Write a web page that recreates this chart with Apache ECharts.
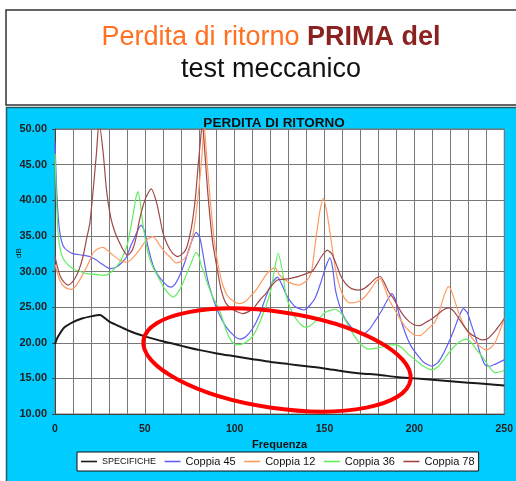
<!DOCTYPE html>
<html>
<head>
<meta charset="utf-8">
<script src="https://cdn.jsdelivr.net/npm/echarts@6.0.0/dist/echarts.min.js"></script>
<style>
  html, body { margin: 0; padding: 0; background: #fff; }
  #chart { width: 516px; height: 481px; }
</style>
</head>
<body>
<div id="chart"></div>
<script>
  // [frequenza, dB]
  const specifiche = [[0,19.8],[1,20.5],[2,21.0],[5,22.1],[10,22.9],[15,23.4],[20,23.7],[25,23.9],[30,23.0],[35,22.4],[40,21.8],[45,21.3],[50,20.9],[60,20.2],[70,19.6],[80,19.0],[90,18.5],[100,18.1],[110,17.7],[120,17.3],[130,17.0],[140,16.7],[150,16.4],[160,16.0],[170,15.7],[180,15.5],[190,15.2],[200,15.0],[210,14.8],[220,14.6],[230,14.4],[240,14.2],[250,14.0]]

  const coppia45 = [[0,48.1],[1,41],[2,37],[3,35],[4.5,33.6],[6.5,33.0],[10,32.5],[15,32.3],[19.4,32.1],[23,31.6],[27,30.9],[30.5,30.4],[34,30.6],[37,31.2],[39.7,32.0],[42,33.5],[44.3,34.8],[46.5,36.0],[48,36.5],[50,35.5],[52,33.2],[54.5,30.9],[57,29.6],[60,28.6],[62.5,28.0],[64.7,27.8],[67,28.3],[70,29.8],[72.5,31.5],[75,33.5],[78.5,35.5],[80.5,34.8],[82.2,32.7],[84,30.0],[86,27.8],[90,24.8],[95,22.3],[100,20.9],[103,20.5],[106,20.8],[110,22.0],[114,24.0],[117.3,26.4],[121,28.5],[123.8,29.2],[126,28.3],[128.4,26.9],[131,25.8],[134,25.0],[138.6,24.6],[142,25.3],[145,26.4],[148,28.5],[150.6,30.6],[153,31.9],[154.5,30.5],[156,27.5],[158,25.5],[160.5,23.8],[163.5,22.6],[167,21.6],[171.5,21.2],[175,21.9],[178,23.0],[182,24.6],[185,26.0],[187.5,26.9],[189.5,26.0],[191.5,24.0],[195,21.3],[198,19.6],[201,18.5],[205,17.3],[209.7,16.7],[213,17.2],[216,18.4],[219,20.0],[222,21.8],[225,23.8],[227.3,24.8],[229.5,24.2],[231.5,22.7],[234,20.8],[236.5,18.6],[239.3,16.9],[242,16.7],[245,17.0],[250,17.6]]

  const coppia12 = [[0,31],[1.5,29.6],[3,28.6],[5,27.9],[7,27.6],[9,27.5],[11,27.8],[13,28.5],[15.7,29.7],[18,30.8],[21.2,32.6],[24,33.2],[26.8,33.4],[29,33.0],[32.3,32.3],[36,31.6],[39.7,31.3],[42.5,31.7],[45.3,32.5],[48,33.4],[50.8,34.4],[54.5,34.9],[56.5,34.4],[58.2,33.7],[61,32.8],[63.7,32.1],[67.4,31.2],[70,31.4],[73,32.1],[75,33.3],[76.7,35.1],[78.2,37.5],[79.5,40.3],[80.8,43.5],[81.9,46.7],[83,50.5],[84.3,46.5],[86,41.1],[88.7,34.2],[91.5,30.0],[93.5,28.0],[96,26.6],[99,25.9],[102.5,25.5],[106,25.8],[109,26.6],[111.8,27.4],[114,28.2],[117,29.4],[120,30.2],[122.5,30.5],[124.7,29.6],[128,28.8],[132,28.3],[135.5,28.1],[139,28.5],[141.5,29.2],[143,30.3],[145,34.2],[147.3,38.3],[149.3,40.3],[151.3,38.3],[153.3,35.0],[156,30.4],[158.5,27.8],[161,26.3],[164,25.6],[169,25.8],[173,26.6],[176.5,27.8],[179,28.7],[181,29.0],[183,28.0],[186,26.0],[191,23.8],[195,22.2],[200,21.1],[203,21.0],[207,21.8],[211.6,23.0],[214,24.5],[216.5,26.6],[219,27.9],[221,27.0],[223.6,25.0],[226,23.3],[228,22.2],[232,20.7],[236,19.6],[240,19.0],[242.5,19.3],[244.8,20.0],[247.5,21.6],[250,23.4]]

  const coppia36 = [[0,46.5],[0.8,40],[1.8,35.1],[3,33.0],[4.6,31.8],[7,31.0],[10,30.4],[14,30.0],[17.6,29.7],[22,29.6],[25,29.5],[28.6,29.5],[32,30.1],[36,31.3],[38.5,32.6],[40.6,34.1],[43.4,37.9],[45,40.3],[46.2,41.2],[47.5,39.5],[49,36.5],[51,33.5],[52.7,31.8],[54.5,30.6],[56.4,29.7],[60,28.0],[62.5,27.1],[65.6,26.4],[68,26.9],[70.5,28.0],[73,29.5],[75.5,31.0],[78.5,32.7],[80,32.2],[81.3,30.9],[83.1,29.7],[85,28.2],[88,26.3],[91.5,24.6],[95.2,21.8],[98,20.3],[100.7,19.7],[104,19.8],[107,20.2],[110,20.9],[113,22.3],[116,24.2],[119.6,26.9],[122,30.0],[124.2,32.6],[126.6,30.0],[128.4,26.9],[131,24.8],[134,23.4],[137,22.5],[139.5,22.2],[142,22.4],[145,23.0],[148,23.7],[150.6,24.3],[156,24.7],[159,24.2],[162,23.0],[165,21.6],[169,20.1],[172,19.4],[174.6,19.1],[178,19.2],[182,19.4],[186,19.7],[190,19.7],[193,19.3],[197,18.3],[200.5,17.6],[205,16.7],[209.7,16.2],[213,16.6],[216,17.5],[219,18.5],[222,19.4],[225,20.1],[229,20.5],[232,19.9],[235,18.9],[239,17.6],[242,16.5],[244.8,15.8],[247.5,15.9],[250,16.1]]

  const coppia78 = [[0,32.1],[1.5,30.5],[3,29.3],[5,28.5],[7.4,28.1],[10,28.6],[13,30.0],[15.5,32.0],[17.6,34.6],[19.4,36.8],[21.2,41.3],[23.1,46.7],[24.5,51],[26.8,46.7],[28.6,41.6],[31,37.6],[33.5,35.4],[36,34.0],[38.5,32.8],[40.5,32.3],[43,33.0],[45,34.6],[47,37.2],[49,39.2],[50.8,40.5],[53.6,41.6],[56.4,39.8],[58.3,37.6],[60,35.5],[62.5,33.8],[65.6,32.5],[68.4,32.1],[71,32.5],[73,33.2],[75,35.0],[76.7,37.4],[78.2,40.5],[79.5,44.4],[81,48.5],[82,51],[83.3,47],[85,41.1],[87.7,34.2],[90.5,30.0],[92.5,27.4],[95,25.6],[98,24.8],[101,24.4],[104.4,24.1],[108,24.4],[111,25.0],[114,26.0],[117.3,26.9],[120.5,28.0],[123.8,28.8],[127,28.9],[130.3,29.0],[134,29.2],[137.6,29.5],[141,29.8],[143,30.0],[145.5,30.9],[148,32.0],[151.5,33.0],[154,32.5],[156.5,31.0],[159,29.4],[161.7,28.3],[165,27.6],[169,27.4],[172,27.6],[175,28.2],[178.3,29.0],[181,29.3],[183.5,28.3],[186,27.0],[188.5,26.2],[191,25.0],[194,23.8],[197,23.0],[200,22.5],[203,22.4],[206,22.8],[210,23.4],[213,24.0],[216,24.6],[219,24.9],[222,24.4],[225,23.3],[228,22.2],[231,21.3],[234,20.8],[237.5,20.4],[241,20.6],[244.8,21.6],[247.5,22.5],[250,23.4]]

  const seriesNames = ['SPECIFICHE', 'Coppia 45', 'Coppia 12', 'Coppia 36', 'Coppia 78']
  const seriesColors = ['#1a1a1a', '#6060f8', '#ff9a60', '#60ee60', '#a04848']
  const seriesData = [specifiche, coppia45, coppia12, coppia36, coppia78]

  const chart = echarts.init(document.getElementById('chart'), null, { renderer: 'canvas' })

  const series = seriesNames.map((name, i) => ({
    name: name,
    type: 'line',
    data: seriesData[i],
    symbol: 'none',
    smooth: 0.2,
    clip: true,
    z: i === 0 ? 3 : 2,
    lineStyle: { color: seriesColors[i], width: i === 0 ? 2 : 1.2 },
    itemStyle: { color: seriesColors[i] }
  }))

  chart.setOption({
    animation: false,
    backgroundColor: '#fff',
    textStyle: { fontFamily: 'Liberation Sans, Arial, sans-serif' },
    graphic: [
      // header box
      { type: 'rect', z: -20, shape: { x: 6, y: 10, width: 520, height: 95 },
        style: { fill: '#fff', stroke: '#333', lineWidth: 1.5 } },
      // blue panel
      { type: 'rect', z: -20, shape: { x: 6.5, y: 107.5, width: 520, height: 380 },
        style: { fill: '#00ccff', stroke: '#2a5a66', lineWidth: 1.5 } },
      { type: 'text', z: 5, x: 19, y: 253, rotation: Math.PI / 2,
        style: { text: 'dB', fill: '#111', font: '8px Liberation Sans', align: 'center', verticalAlign: 'middle' } },
      // red hand-drawn ellipse
      { type: 'ellipse', z: 20, x: 277, y: 360, rotation: -0.148,
        shape: { cx: 0, cy: 0, rx: 135, ry: 48 },
        style: { fill: 'none', stroke: '#ff0000', lineWidth: 4 } }
    ],
    title: [
      {
        left: 266, top: 17, textAlign: 'center',
        text: '{a|Perdita di ritorno }{b|PRIMA del}\n{c|test meccanico}',
        textStyle: {
          fontWeight: 'normal',
          rich: {
            a: { fontSize: 27, color: '#ff7020', fontWeight: 'normal', fontFamily: 'Liberation Sans', lineHeight: 32 },
            b: { fontSize: 27, color: '#8b2222', fontWeight: 'bold', fontFamily: 'Liberation Sans', lineHeight: 32 },
            c: { fontSize: 27, color: '#111', fontWeight: 'normal', fontFamily: 'Liberation Sans', lineHeight: 32 }
          }
        }
      },
      {
        left: 269, top: 111, textAlign: 'center',
        text: 'PERDITA DI RITORNO',
        textStyle: { fontSize: 13.5, fontWeight: 'bold', color: '#111', fontFamily: 'Liberation Sans' }
      }
    ],
    legend: {
      left: 77, top: 452,
      data: seriesNames,
      icon: 'rect',
      backgroundColor: '#fff',
      borderColor: '#111',
      borderWidth: 1,
      padding: [3, 4],
      itemGap: 8.5,
      itemWidth: 16,
      itemHeight: 1.6,
      formatter: name => name === 'SPECIFICHE' ? '{s|SPECIFICHE}' : name,
      textStyle: {
        fontSize: 11, color: '#111', fontFamily: 'Liberation Sans', lineHeight: 13,
        rich: { s: { fontSize: 9, color: '#111', fontFamily: 'Liberation Sans', lineHeight: 13 } }
      }
    },
    grid: {
      left: 55, right: 10, top: 129, bottom: 67,
      show: true, backgroundColor: '#fff', borderColor: '#777', borderWidth: 1
    },
    xAxis: {
      type: 'value', min: 0, max: 250, interval: 10,
      name: 'Frequenza', nameLocation: 'middle', nameGap: 21,
      nameTextStyle: { fontSize: 11, fontWeight: 'bold', color: '#111' },
      axisLine: { show: true, lineStyle: { color: '#444' } },
      axisTick: { show: false },
      axisLabel: {
        margin: 10, fontSize: 10.5, fontWeight: 'bold', color: '#222',
        formatter: v => (v % 50 === 0 ? String(v) : '')
      },
      splitLine: { show: true, lineStyle: { color: '#787878', width: 1 } }
    },
    yAxis: {
      type: 'value', min: 10, max: 50, interval: 5,
      axisLine: { show: true, lineStyle: { color: '#444' } },
      axisTick: { show: true, length: 3, lineStyle: { color: '#444' } },
      axisLabel: { margin: 8, fontSize: 11, fontWeight: 'bold', color: '#222', formatter: v => v.toFixed(2) },
      splitLine: { show: true, lineStyle: { color: '#787878', width: 1 } }
    },
    series: series
  })
</script>
</body>
</html>
